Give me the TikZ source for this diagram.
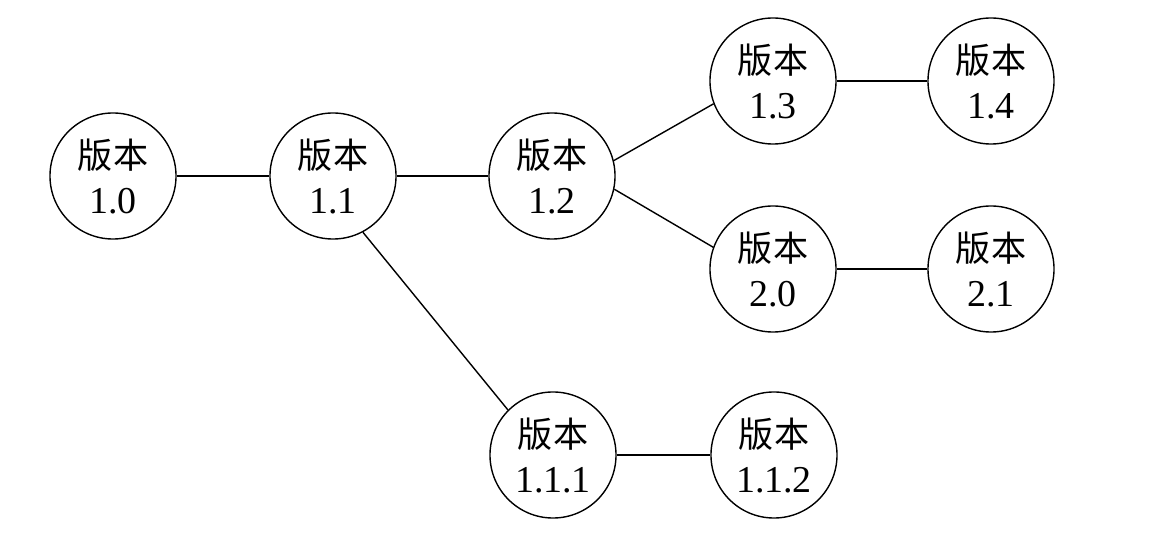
\documentclass[tikz,border=0pt]{standalone}
\usepackage{fontspec}
\setmainfont{Liberation Serif}
\newfontfamily\cjk{Noto Sans CJK SC}
\usetikzlibrary{positioning}

\begin{document}
\begin{tikzpicture}[x=0.025cm,y=-0.025cm,
	ver/.style={draw,circle,line width=1pt,minimum size=3.15cm,inner sep=0pt,align=center,font=\fontsize{27}{32}\selectfont},
	edge/.style={line width=1pt}]
	\useasboundingbox (0,0) rectangle (1160,537);
	\node[ver] (v10) at (113,176) {{\cjk\fontsize{25}{32}\selectfont 版本}\\1.0};
	\node[ver] (v11) at (333,176) {{\cjk\fontsize{25}{32}\selectfont 版本}\\1.1};
	\node[ver] (v12) at (552,176) {{\cjk\fontsize{25}{32}\selectfont 版本}\\1.2};
	\node[ver] (v13) at (773,81) {{\cjk\fontsize{25}{32}\selectfont 版本}\\1.3};
	\node[ver] (v14) at (991,81) {{\cjk\fontsize{25}{32}\selectfont 版本}\\1.4};
	\node[ver] (v20) at (773,269) {{\cjk\fontsize{25}{32}\selectfont 版本}\\2.0};
	\node[ver] (v21) at (991,269) {{\cjk\fontsize{25}{32}\selectfont 版本}\\2.1};
	\node[ver] (v111) at (553,455) {{\cjk\fontsize{25}{32}\selectfont 版本}\\1.1.1};
	\node[ver] (v112) at (774,455) {{\cjk\fontsize{25}{32}\selectfont 版本}\\1.1.2};
	\draw[edge] (v10) -- (v11);
	\draw[edge] (v11) -- (v12);
	\draw[edge] (v12.14) -- (v13.201);
	\draw[edge] (v13) -- (v14);
	\draw[edge] (v12.-12) -- (v20.160);
	\draw[edge] (v20) -- (v21);
	\draw[edge] (v11.-62) -- (v111.135);
	\draw[edge] (v111) -- (v112);
\end{tikzpicture}
\end{document}
